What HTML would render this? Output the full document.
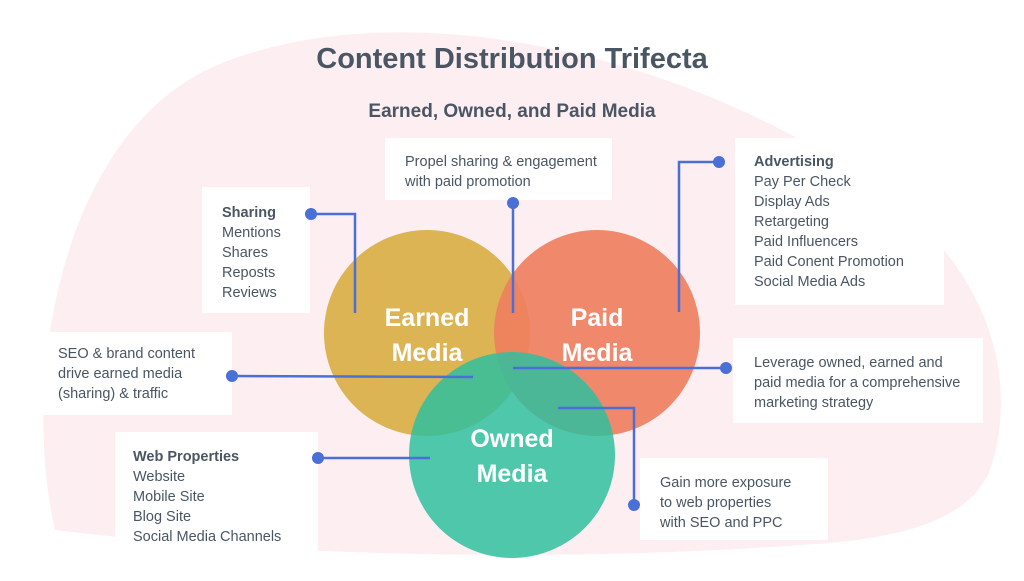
<!DOCTYPE html>
<html><head><style>
body{margin:0;width:1024px;height:576px;overflow:hidden;background:#fff;font-family:"Liberation Sans",sans-serif}
</style></head><body>
<svg width="1024" height="576" viewBox="0 0 1024 576" xmlns="http://www.w3.org/2000/svg">
<path d="M55 530 C20 380 60 120 230 60 C420 -10 700 60 880 190 C990 270 1020 380 990 470 C970 520 900 540 800 545 C600 560 300 560 55 530 Z" fill="#fdeef2"/>
<text x="512" y="68" text-anchor="middle" font-size="29" font-weight="bold" fill="#4a5663">Content Distribution Trifecta</text>
<text x="512" y="117" text-anchor="middle" font-size="19" font-weight="bold" fill="#4a5663">Earned, Owned, and Paid Media</text>
<g fill="#fff">
<rect x="202" y="187" width="108" height="126"/>
<rect x="385" y="138" width="227" height="62"/>
<rect x="735" y="138" width="209" height="167"/>
<rect x="40" y="332" width="192" height="83"/>
<rect x="733" y="338" width="250" height="85"/>
<rect x="115" y="432" width="203" height="124"/>
<rect x="640" y="458" width="188" height="82"/>
</g>
<circle cx="427" cy="333" r="103" fill="#dbb04a" opacity="0.95"/>
<circle cx="597" cy="333" r="103" fill="#ef8060" opacity="0.92"/>
<circle cx="512" cy="455" r="103" fill="#2fbf9f" opacity="0.85"/>
<g fill="#fff" font-weight="bold" font-size="25" text-anchor="middle">
<text x="427" y="326">Earned</text><text x="427" y="361">Media</text>
<text x="597" y="326">Paid</text><text x="597" y="361">Media</text>
<text x="512" y="447">Owned</text><text x="512" y="482">Media</text>
</g>
<g stroke="#4a6fd6" stroke-width="2.5" fill="none">
<polyline points="311,214 355,214 355,313"/>
<polyline points="513,203 513,313"/>
<polyline points="719,162 679,162 679,312"/>
<polyline points="232,376 473,377"/>
<polyline points="726,368 513,368"/>
<polyline points="318,458 430,458"/>
<polyline points="558,408 634,408 634,505"/>
</g>
<g fill="#4a6fd6">
<circle cx="311" cy="214" r="6"/><circle cx="513" cy="203" r="6"/><circle cx="719" cy="162" r="6"/>
<circle cx="232" cy="376" r="6"/><circle cx="726" cy="368" r="6"/><circle cx="318" cy="458" r="6"/><circle cx="634" cy="505" r="6"/>
</g>
<g font-size="14.5" fill="#4a5663">
<text x="222" y="217" font-weight="bold">Sharing</text>
<text x="222" y="237">Mentions</text><text x="222" y="257">Shares</text><text x="222" y="277">Reposts</text><text x="222" y="297">Reviews</text>
<text x="405" y="166">Propel sharing &amp; engagement</text><text x="405" y="186">with paid promotion</text>
<text x="754" y="166" font-weight="bold">Advertising</text>
<text x="754" y="186">Pay Per Check</text><text x="754" y="206">Display Ads</text><text x="754" y="226">Retargeting</text><text x="754" y="246">Paid Influencers</text><text x="754" y="266">Paid Conent Promotion</text><text x="754" y="286">Social Media Ads</text>
<text x="58" y="358">SEO &amp; brand content</text><text x="58" y="378">drive earned media</text><text x="58" y="398">(sharing) &amp; traffic</text>
<text x="754" y="367">Leverage owned, earned and</text><text x="754" y="387">paid media for a comprehensive</text><text x="754" y="407">marketing strategy</text>
<text x="133" y="461" font-weight="bold">Web Properties</text>
<text x="133" y="481">Website</text><text x="133" y="501">Mobile Site</text><text x="133" y="521">Blog Site</text><text x="133" y="541">Social Media Channels</text>
<text x="660" y="487">Gain more exposure</text><text x="660" y="507">to web properties</text><text x="660" y="527">with SEO and PPC</text>
</g>
</svg>
</body></html>
